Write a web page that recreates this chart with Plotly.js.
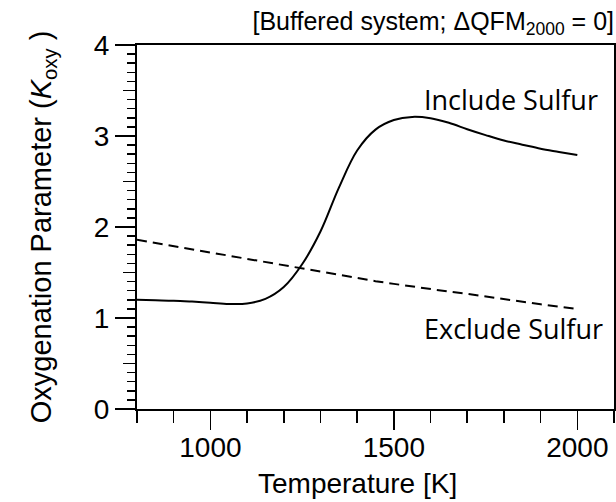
<!DOCTYPE html>
<html>
<head>
<meta charset="utf-8">
<script src="https://cdn.plot.ly/plotly-3.0.1.min.js"></script>
<style>html,body{margin:0;padding:0;background:#fff;}</style>
</head>
<body>
<div id="chart" style="width:616px;height:502px;"></div>
<script>
// Temperature grid [K]
const temperature = [800, 850, 900, 950, 1000, 1050, 1100, 1150, 1200, 1250, 1300, 1350, 1400,
                     1450, 1500, 1550, 1600, 1650, 1700, 1750, 1800, 1850, 1900, 1950, 2000];
// Oxygenation parameter K_oxy, sulfur included (solid)
const includeSulfur = [1.20, 1.195, 1.19, 1.18, 1.168, 1.155, 1.16, 1.21, 1.34, 1.59, 1.95, 2.43, 2.84,
                       3.07, 3.175, 3.21, 3.195, 3.145, 3.075, 3.01, 2.95, 2.905, 2.86, 2.825, 2.79];
// Oxygenation parameter K_oxy, sulfur excluded (dashed)
const excludeSulfur = [1.86, 1.825, 1.79, 1.75, 1.715, 1.68, 1.645, 1.61, 1.58, 1.545, 1.51, 1.475, 1.44,
                       1.405, 1.375, 1.345, 1.32, 1.29, 1.265, 1.235, 1.205, 1.18, 1.15, 1.125, 1.10];
const seriesNames = ['Include Sulfur', 'Exclude Sulfur'];

// Tick positions and labels
const xTickVals = [800, 900, 1000, 1100, 1200, 1300, 1400, 1500, 1600, 1700, 1800, 1900, 2000, 2100];
const xTickText = ['', '', '1000', '', '', '', '', '1500', '', '', '', '', '2000', ''];
const xMajorTicks = [1000, 1500, 2000];
const yMajorTicks = [0, 1, 2, 3, 4];
const yHalfTicks = [0.5, 1.5, 2.5, 3.5];
const yMinorTicks = [0.1,0.2,0.3,0.4,0.6,0.7,0.8,0.9, 1.1,1.2,1.3,1.4,1.6,1.7,1.8,1.9,
                     2.1,2.2,2.3,2.4,2.6,2.7,2.8,2.9, 3.1,3.2,3.3,3.4,3.6,3.7,3.8,3.9];

const axisFont = {family: 'Liberation Sans, Arial, Helvetica, sans-serif', size: 28, color: '#000'};
const labelFont = {family: 'Open Sans, Noto Sans, sans-serif', size: 27, color: '#000'};
const tickStyle = {ticks: 'outside', tickwidth: 1.5, tickcolor: '#000', showgrid: false, zeroline: false};

const traces = [
  {x: temperature, y: includeSulfur, name: seriesNames[0], type: 'scatter', mode: 'lines',
   line: {color: '#000', width: 2, shape: 'spline', smoothing: 1}},
  {x: temperature, y: excludeSulfur, name: seriesNames[1], type: 'scatter', mode: 'lines',
   line: {color: '#000', width: 2, dash: '10px,6px'}},
  // invisible helpers so the overlay tick axes are drawn
  {x: [800], y: [0], xaxis: 'x2', yaxis: 'y2', type: 'scatter', mode: 'markers',
   marker: {opacity: 0}, hoverinfo: 'skip', showlegend: false},
  {x: [800], y: [0], xaxis: 'x', yaxis: 'y3', type: 'scatter', mode: 'markers',
   marker: {opacity: 0}, hoverinfo: 'skip', showlegend: false}
];

const layout = {
  width: 616, height: 502,
  margin: {l: 137, r: 2, t: 45, b: 93, pad: 0},
  paper_bgcolor: '#fff', plot_bgcolor: '#fff',
  showlegend: false,
  font: axisFont,
  title: {
    text: '[Buffered system; ΔQFM<sub>2000</sub> = 0]',
    font: {family: 'Liberation Sans, Arial, sans-serif', size: 25, color: '#000'},
    xref: 'paper', x: 1, xanchor: 'right',
    yref: 'container', y: 0.958, yanchor: 'middle'
  },
  xaxis: Object.assign({}, tickStyle, {
    range: [800, 2100], tickmode: 'array', tickvals: xTickVals, ticktext: xTickText,
    ticklen: 12, showline: true, linewidth: 2, linecolor: '#000', mirror: true,
    tickfont: axisFont
  }),
  xaxis2: Object.assign({}, tickStyle, {
    overlaying: 'x', side: 'bottom', range: [800, 2100], anchor: 'y',
    tickmode: 'array', tickvals: xMajorTicks, showticklabels: false,
    ticklen: 20, showline: false
  }),
  yaxis: Object.assign({}, tickStyle, {
    range: [0, 4], tickmode: 'array', tickvals: yMajorTicks,
    ticklen: 20, showline: true, linewidth: 2, linecolor: '#000', mirror: true,
    tickfont: axisFont,
    title: {text: 'Oxygenation Parameter (<i>K</i><sub>oxy</sub> )', font: {family: axisFont.family, size: 29, color: '#000'}, standoff: 34}
  }),
  yaxis2: Object.assign({}, tickStyle, {
    overlaying: 'y', side: 'left', range: [0, 4], anchor: 'x',
    tickmode: 'array', tickvals: yHalfTicks, showticklabels: false,
    ticklen: 13, showline: false
  }),
  yaxis3: Object.assign({}, tickStyle, {
    overlaying: 'y', side: 'left', range: [0, 4], anchor: 'x',
    tickmode: 'array', tickvals: yMinorTicks, showticklabels: false,
    ticklen: 9, showline: false
  }),
  annotations: [
    {text: 'Temperature [K]', xref: 'x', x: 1400, yref: 'paper', y: -0.205, yanchor: 'middle',
     xanchor: 'center', showarrow: false, font: axisFont},
    {text: seriesNames[0], xref: 'x', x: 2062, yref: 'y', y: 3.40, xanchor: 'right', yanchor: 'middle',
     showarrow: false, font: labelFont},
    {text: seriesNames[1], xref: 'x', x: 2075, yref: 'y', y: 0.89, xanchor: 'right', yanchor: 'middle',
     showarrow: false, font: labelFont}
  ]
};

Plotly.newPlot('chart', traces, layout, {displayModeBar: false, staticPlot: true});
</script>
</body>
</html>
